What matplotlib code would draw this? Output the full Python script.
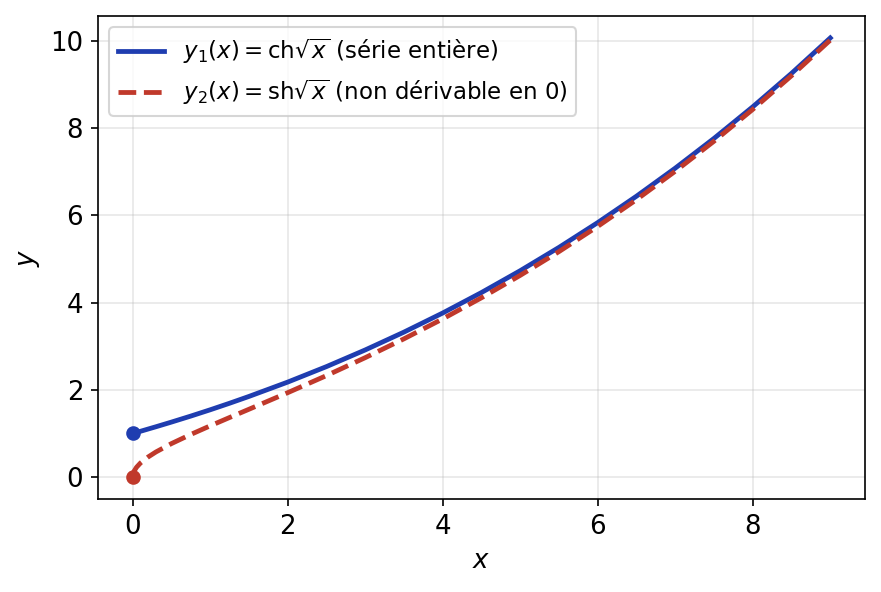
import matplotlib
matplotlib.use("Agg")
import matplotlib.pyplot as plt

# values
x_vals = [0, 0.01, 0.02, 0.05, 0.1, 0.2, 0.3, 0.5, 0.75, 1, 1.25, 1.5, 2, 2.5,
          3, 3.5, 4, 4.5, 5, 5.5, 6, 6.5, 7, 7.5, 8, 8.5, 9]
y1_vals = [1.0, 1.005, 1.010, 1.025, 1.050, 1.102, 1.154, 1.261, 1.399, 1.543,
           1.693, 1.849, 2.178, 2.533, 2.915, 3.324, 3.762, 4.231, 4.732, 5.266,
           5.835, 6.440, 7.083, 7.765, 8.489, 9.256, 10.068]
y2_vals = [0.0, 0.100, 0.142, 0.226, 0.322, 0.462, 0.576, 0.768, 0.978, 1.175,
           1.366, 1.555, 1.935, 2.327, 2.738, 3.170, 3.627, 4.111, 4.625, 5.170,
           5.748, 6.361, 7.012, 7.700, 8.430, 9.202, 10.018]

start_x = [0, 0]
start_y = [1, 0]

label1 = r"$y_1(x) = \mathrm{ch}\sqrt{x}$ (série entière)"
label2 = r"$y_2(x) = \mathrm{sh}\sqrt{x}$ (non dérivable en 0)"

blue = "#1f3db0"
red = "#c0392b"

fig, ax = plt.subplots(figsize=(881 / 150, 592 / 150), dpi=150)
ax.plot(x_vals, y1_vals, color=blue, lw=2.3, label=label1)
ax.plot(x_vals, y2_vals, color=red, lw=2.3, ls="--", label=label2)
ax.plot(start_x[0], start_y[0], "o", color=blue, ms=6)
ax.plot(start_x[1], start_y[1], "o", color=red, ms=6)

ax.set_xlabel("$x$", fontsize=12.5)
ax.set_ylabel("$y$", fontsize=12.5)
ax.tick_params(labelsize=12.5)
ax.grid(True, alpha=0.3)
ax.legend(loc="upper left", fontsize=11)

fig.subplots_adjust(left=0.111, right=0.982, top=0.973, bottom=0.157)
fig.savefig("out.png", dpi=150)
plt.close(fig)
